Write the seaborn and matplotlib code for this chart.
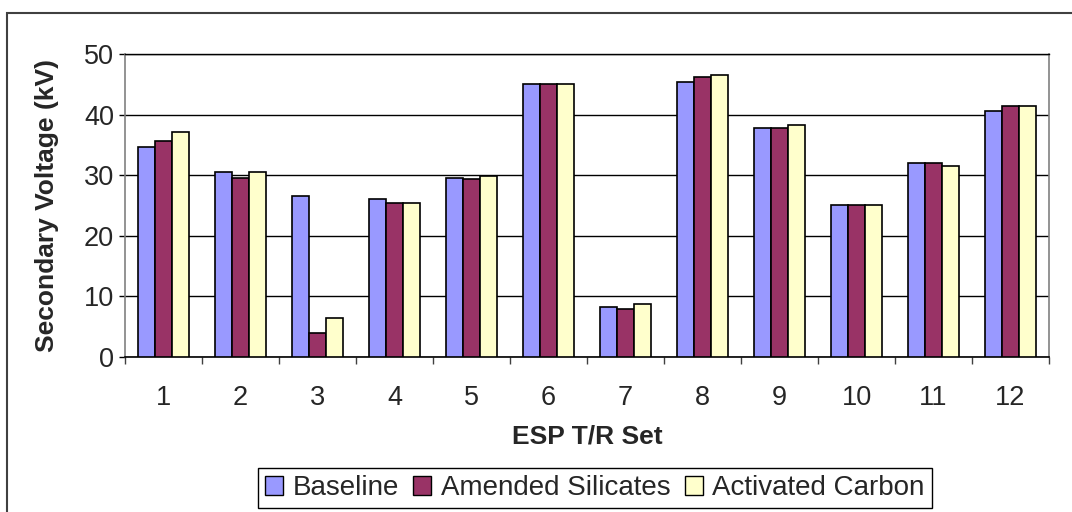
import matplotlib
matplotlib.use("Agg")
import matplotlib.pyplot as plt
import seaborn as sns
import pandas as pd
from matplotlib.patches import Rectangle

categories = ["1", "2", "3", "4", "5", "6", "7", "8", "9", "10", "11", "12"]
baseline = [34.7, 30.6, 26.5, 26.1, 29.6, 45.1, 8.2, 45.4, 37.8, 25.1, 32.0, 40.6]
amended = [35.7, 29.6, 4.0, 25.4, 29.3, 45.1, 7.9, 46.2, 37.8, 25.1, 32.0, 41.5]
activated = [37.2, 30.6, 6.4, 25.4, 29.9, 45.1, 8.7, 46.5, 38.3, 25.1, 31.5, 41.5]
series_names = ["Baseline", "Amended Silicates", "Activated Carbon"]
colors = ["#9999FF", "#993366", "#FFFFCC"]

rows = []
for name, vals in zip(series_names, [baseline, amended, activated]):
    for c, v in zip(categories, vals):
        rows.append({"set": c, "series": name, "value": v})
df = pd.DataFrame(rows)

sns.set_style("white")
plt.rcParams["font.family"] = ["Liberation Sans", "DejaVu Sans"]

fig = plt.figure(figsize=(10.72, 5.12), dpi=100)
ax = fig.add_axes([125 / 1072, 1 - 357 / 512, (1049 - 125) / 1072, (357 - 54) / 512])

sns.barplot(data=df, x="set", y="value", hue="series", order=categories,
            hue_order=series_names, palette=colors, width=0.66, gap=0,
            edgecolor="black", linewidth=1.2, saturation=1, ax=ax, zorder=3)

ax.set_ylim(0, 50)
ax.set_xlim(-0.5, 11.5)
ax.set_yticks([0, 10, 20, 30, 40, 50])
ax.yaxis.grid(True, color="black", linewidth=1.0, zorder=0)
ax.set_axisbelow(True)
ax.tick_params(axis="y", direction="out", length=4.3, width=1, color="black",
               labelsize=19.5, pad=3.5, left=True)
ax.tick_params(axis="x", which="major", length=0, labelsize=19.5, pad=20)
ax.set_xticks([i + 0.5 for i in range(-1, 12)], minor=True)
ax.tick_params(axis="x", which="minor", direction="out", length=5, width=1,
               color="#404040", bottom=True)

for s in ["left", "right"]:
    ax.spines[s].set_color("#808080")
    ax.spines[s].set_linewidth(1.2)
ax.spines["bottom"].set_color("black")
ax.spines["bottom"].set_linewidth(1.2)
ax.spines["top"].set_color("black")
ax.spines["top"].set_linewidth(1.0)

ax.set_xlabel("ESP T/R Set", fontsize=19, fontweight="bold")
ax.set_ylabel("Secondary Voltage (kV)", fontsize=19, fontweight="bold")
ax.xaxis.set_label_coords(0.5, (357 - 437) / 303)
ax.xaxis.label.set_va("center")
ax.yaxis.set_label_coords((47 - 125) / 924, 0.5)
ax.yaxis.label.set_va("center")

leg = ax.legend(loc="center", bbox_to_anchor=(595 / 1072, 1 - 488 / 512),
                bbox_transform=fig.transFigure, ncol=3, fontsize=20,
                frameon=True, fancybox=False, edgecolor="black", framealpha=1,
                handlelength=0.65, handleheight=0.65, handletextpad=0.35,
                columnspacing=0.5, borderpad=0.25, borderaxespad=0)
leg.get_frame().set_linewidth(1.0)
for h in leg.legend_handles:
    h.set_edgecolor("black")
    h.set_linewidth(1.0)

fig.patches.append(Rectangle((7 / 1072, -0.05), 1.1, 0.05 + (1 - 13 / 512),
                             transform=fig.transFigure, fill=False,
                             edgecolor="#404040", linewidth=1.5))

fig.savefig("out.png", dpi=100)
